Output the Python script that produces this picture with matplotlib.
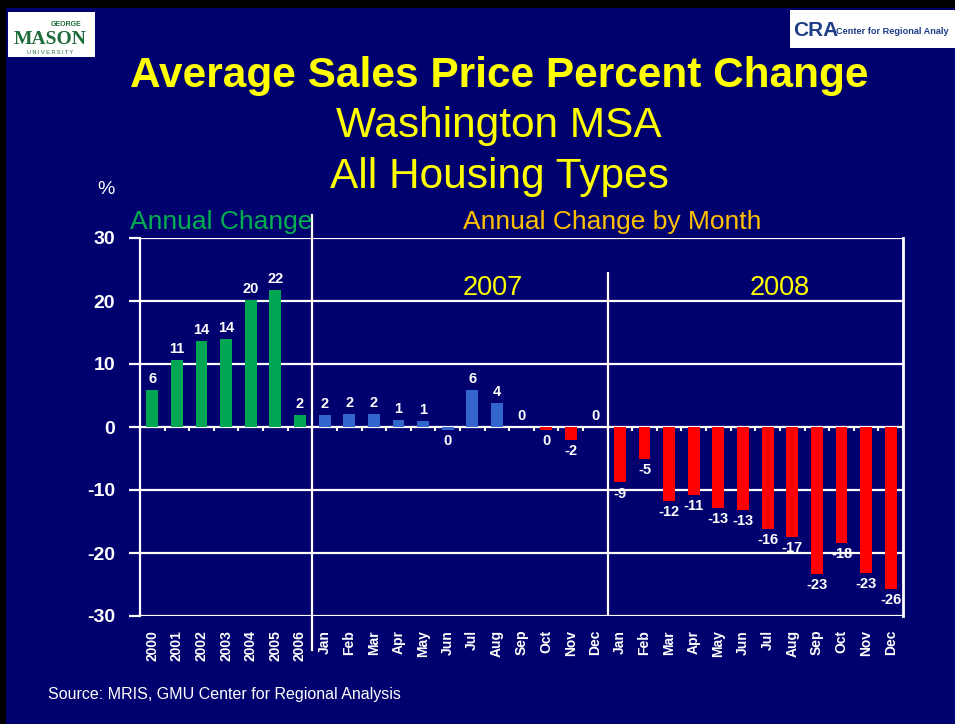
import matplotlib.pyplot as plt
import numpy as np
from matplotlib.patches import Rectangle

# ==========================
# DATA
# ==========================

years = ["2000", "2001", "2002", "2003", "2004", "2005", "2006"]
months = ["Jan", "Feb", "Mar", "Apr", "May", "Jun",
          "Jul", "Aug", "Sep", "Oct", "Nov", "Dec"]

annual = [5.8, 10.6, 13.7, 13.9, 20.1, 21.7, 1.9]
monthly_2007 = [1.9, 2.1, 2.1, 1.1, 1.0, -0.4, 5.8, 3.8, 0.0, -0.4, -2.0, 0.0]
monthly_2008 = [-8.8, -5.1, -11.7, -10.8, -12.9, -13.1,
                -16.2, -17.4, -23.3, -18.4, -23.1, -25.7]

labels = years + months + months
values = annual + monthly_2007 + monthly_2008

# ==========================
# STYLE
# ==========================

navy = "#00006E"
green = "#00A651"
blue = "#3366CC"
red = "#FF0000"
yellow = "#FFFF00"

# declines start Oct 2007 -> red from there on
colors = ([green] * len(annual)
          + [blue if i < 9 else red for i in range(len(monthly_2007))]
          + [red] * len(monthly_2008))

plt.rcParams['font.family'] = ['Liberation Sans', 'DejaVu Sans']
plt.rcParams['axes.unicode_minus'] = False

W, H = 955, 724


def fx(x):
    return x / W


def fy(y):
    return 1 - y / H


fig = plt.figure(figsize=(W / 100, H / 100), dpi=100, facecolor=navy)
# black slide border (top and left)
fig.patches.append(Rectangle((0, fy(8)), 1, 8 / H, transform=fig.transFigure,
                             facecolor="black", edgecolor="none", zorder=-1))
fig.patches.append(Rectangle((0, 0), fx(6), 1, transform=fig.transFigure,
                             facecolor="black", edgecolor="none", zorder=-1))

ax = fig.add_axes([fx(140), fy(616), (903 - 140) / W, (616 - 238) / H])
ax.set_facecolor(navy)

x = np.arange(len(values))
ax.bar(x, values, width=0.48, color=colors, zorder=3)

ax.set_xlim(-0.5, len(values) - 0.5)
ax.set_ylim(-30, 30)
ax.set_yticks(range(-30, 31, 10))
ax.grid(axis="y", color="white", lw=1.6, zorder=1)
ax.set_axisbelow(True)

for s in ["top", "bottom"]:
    ax.spines[s].set_visible(False)
ax.spines["left"].set_color("white")
ax.spines["left"].set_linewidth(1.6)
ax.spines["right"].set_color("white")
ax.spines["right"].set_linewidth(2)

ax.tick_params(axis="y", colors="white", length=8, width=1.6, pad=10,
               labelsize=14)
for t in ax.get_yticklabels():
    t.set_fontweight("bold")

ax.set_xticks(x)
ax.set_xticklabels(labels, rotation=90, fontsize=10, fontweight="bold",
                   color="white")
ax.tick_params(axis="x", length=0, pad=10)

# little marks under the zero line
ax.vlines(np.arange(len(values) + 1) - 0.5, -0.7, 0, color="white", lw=1.5,
          zorder=2)

# section separators
ax.axvline(len(annual) - 0.5, ymin=-0.09, ymax=1.06, color="white", lw=1.6,
           clip_on=False, zorder=2)
ax.axvline(len(annual) + len(monthly_2007) - 0.5, ymin=0, ymax=0.907,
           color="white", lw=1.6, zorder=2)

# value labels
for i, v in enumerate(values):
    above = v >= 0
    ax.annotate(str(int(round(v))), (i, v),
                xytext=(0, 3 if above else -3), textcoords="offset points",
                ha="center", va="bottom" if above else "top",
                color="white", fontweight="bold", fontsize=10.5, zorder=4)

# ==========================
# TEXT
# ==========================

fig.text(fx(499), fy(76), "Average Sales Price Percent Change", ha="center",
         va="center", fontsize=30.5, fontweight="bold", color=yellow)
fig.text(fx(499), fy(126), "Washington MSA", ha="center", va="center",
         fontsize=30.5, color=yellow)
fig.text(fx(499), fy(177), "All Housing Types", ha="center", va="center",
         fontsize=30.5, color=yellow)

fig.text(fx(106), fy(190), "%", ha="center", va="center", fontsize=14,
         color="white")
fig.text(fx(130), fy(222), "Annual Change", ha="left", va="center",
         fontsize=19, color="#00B050")
fig.text(fx(463), fy(222), "Annual Change by Month", ha="left", va="center",
         fontsize=19, color="#FFC000")
fig.text(fx(493), fy(288), "2007", ha="center", va="center", fontsize=19.5,
         color=yellow)
fig.text(fx(780), fy(288), "2008", ha="center", va="center", fontsize=19.5,
         color=yellow)

fig.text(fx(48), fy(695), "Source: MRIS, GMU Center for Regional Analysis",
         ha="left", va="center", fontsize=11.5, color="white")

# ==========================
# LOGOS (as text)
# ==========================

fig.patches.append(Rectangle((fx(8), fy(57)), (95 - 8) / W, 45 / H,
                             transform=fig.transFigure, facecolor="white",
                             edgecolor="none", zorder=-1))
fig.text(fx(66), fy(24), "GEORGE", ha="center", va="center", fontsize=5,
         fontweight="bold", color="#1E6B3A")
fig.text(fx(50), fy(39), "MASON", ha="center", va="center", fontsize=14,
         fontweight="bold", family="Liberation Serif", color="#1E6B3A")
fig.text(fx(50), fy(52), "U N I V E R S I T Y", ha="center", va="center",
         fontsize=4, color="#1E6B3A")

fig.patches.append(Rectangle((fx(790), fy(48)), (W - 790) / W, 38 / H,
                             transform=fig.transFigure, facecolor="white",
                             edgecolor="none", zorder=-1))
fig.text(fx(793), fy(30), "CRA", ha="left", va="center", fontsize=15,
         fontweight="bold", color="#1F3C88")
fig.text(fx(836), fy(32), "Center for Regional Analy", ha="left",
         va="center", fontsize=6.6, fontweight="bold", color="#1F3C88")

fig.savefig("out.png", dpi=100, facecolor=fig.get_facecolor())
